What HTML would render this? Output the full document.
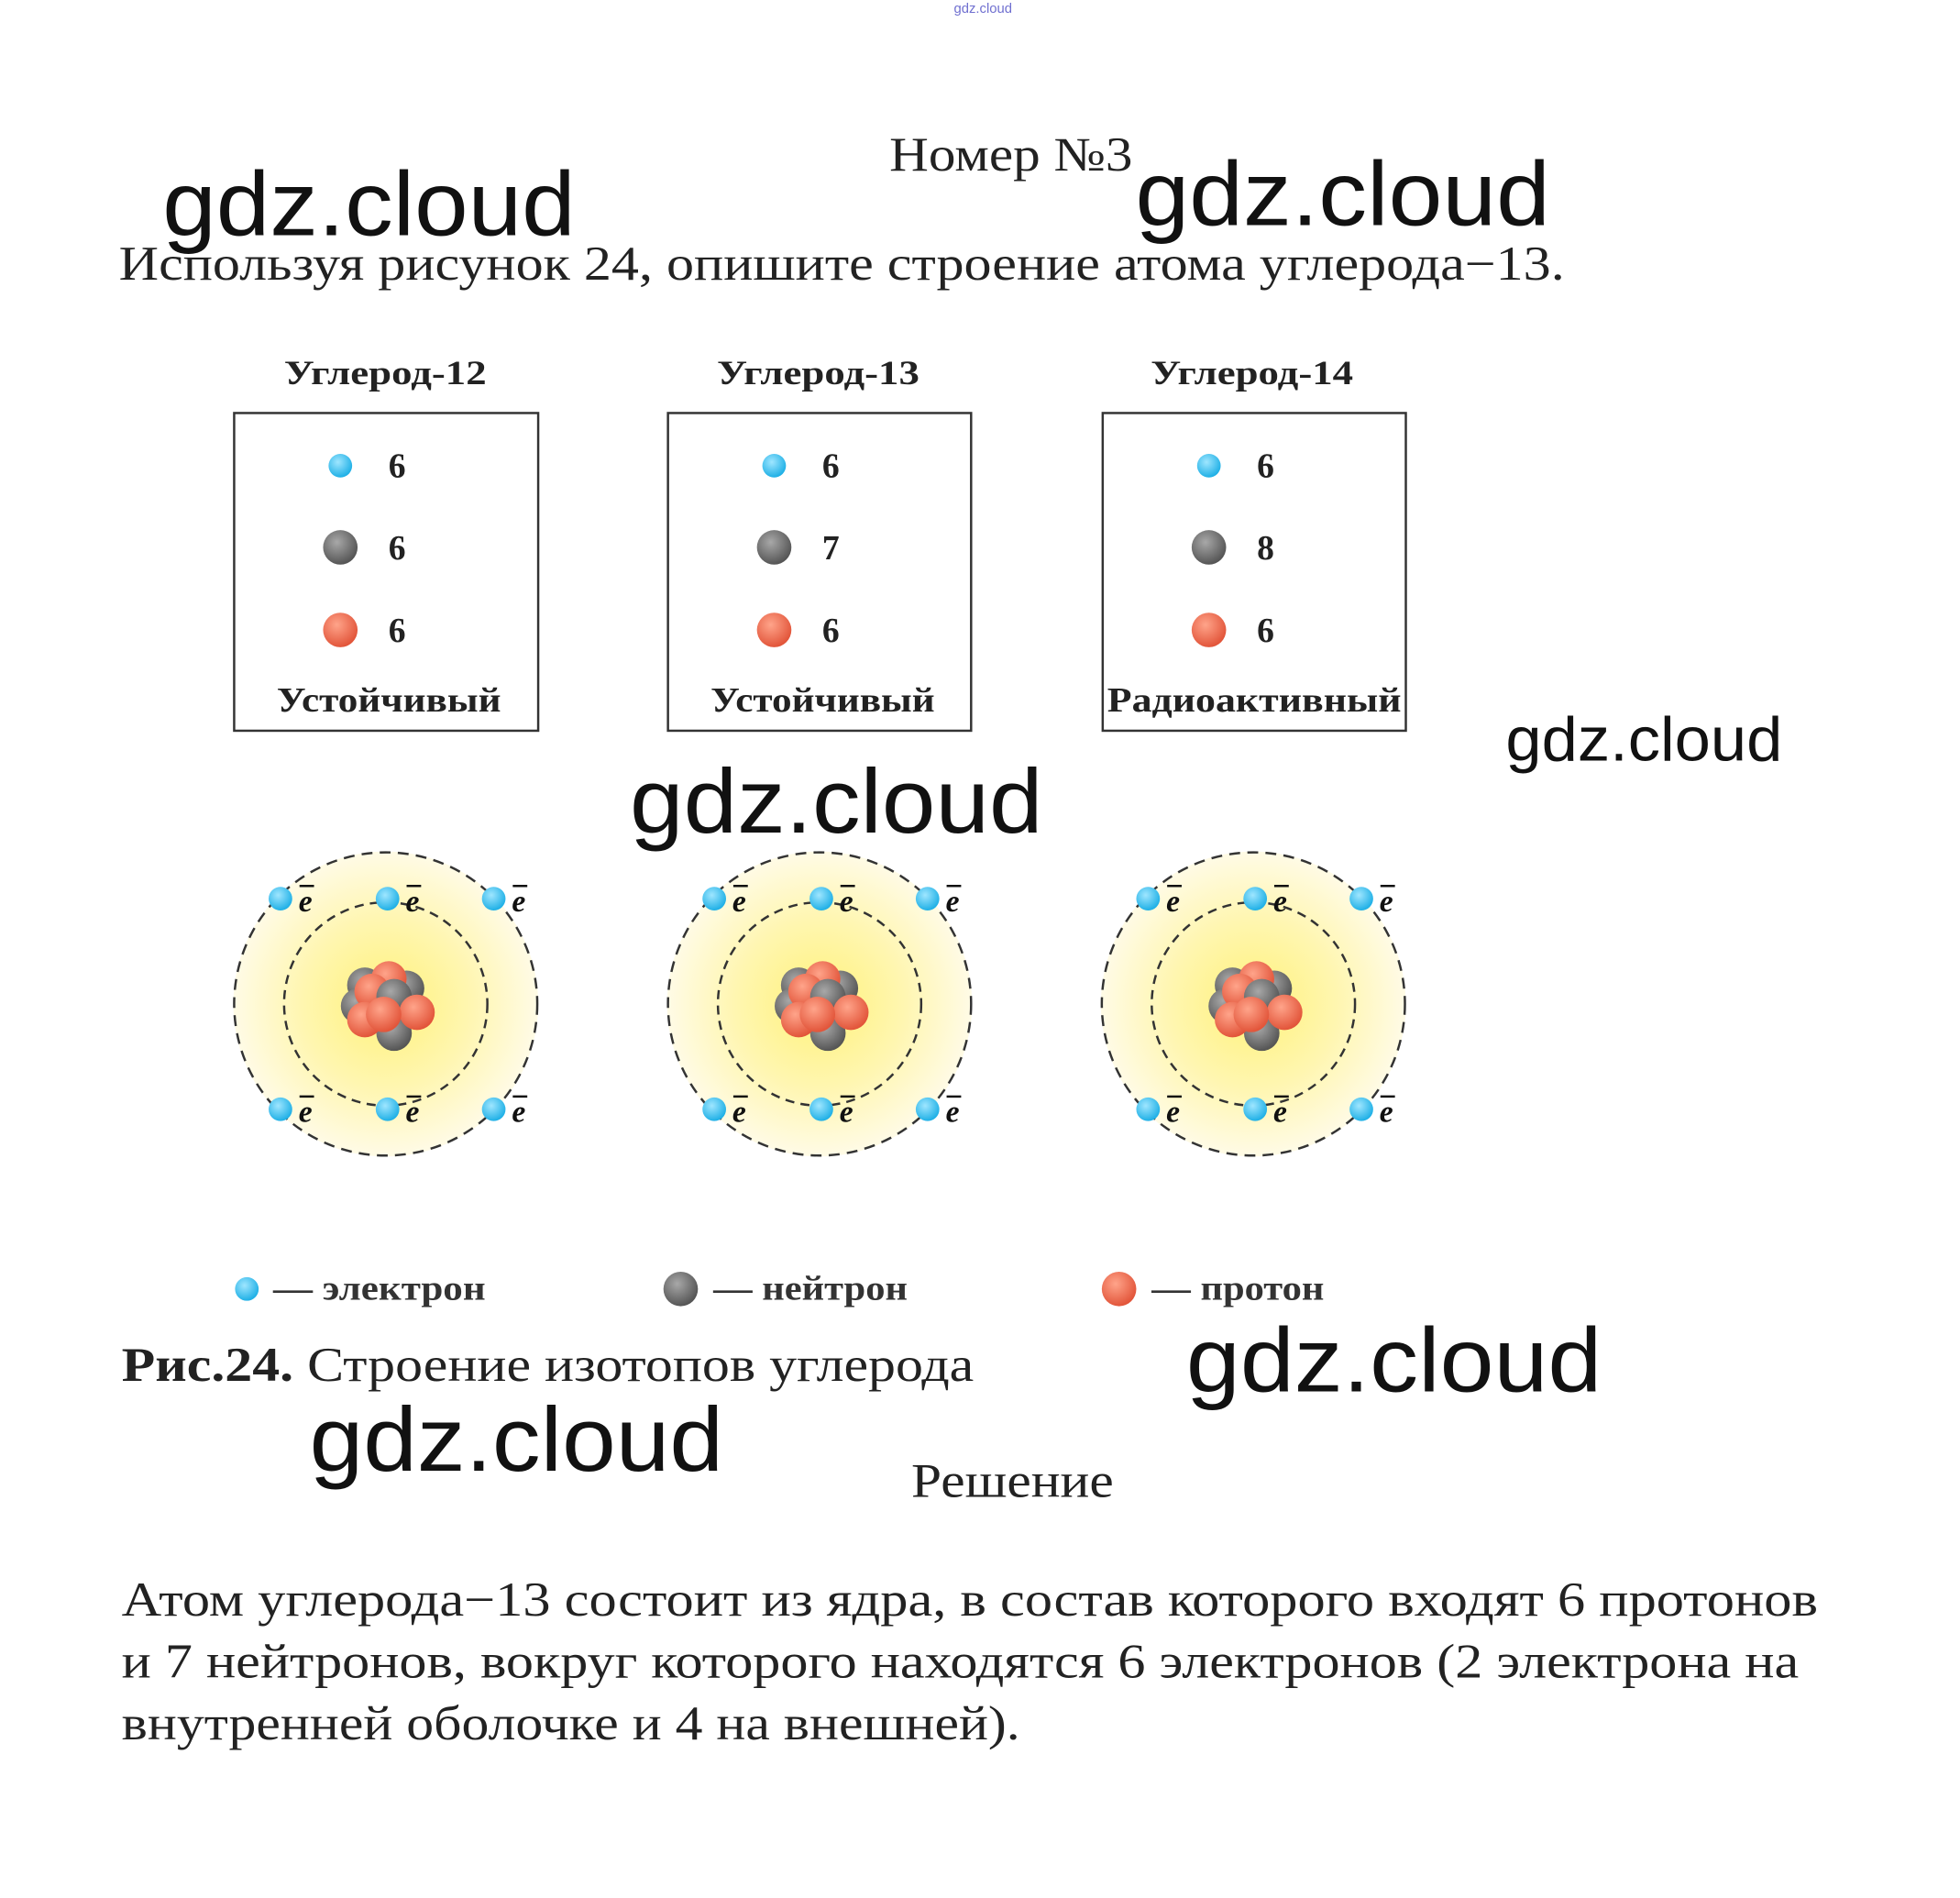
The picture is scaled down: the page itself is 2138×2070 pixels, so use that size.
<!DOCTYPE html>
<html><head><meta charset="utf-8"><style>
body{margin:0;width:2138px;height:2070px;background:#fff;position:relative;overflow:hidden}
</style></head><body>
<svg style="position:absolute;left:0;top:0" width="2138" height="2070" font-family="Liberation Serif,serif">
<defs>
<radialGradient id="ge" cx="40%" cy="35%" r="65%"><stop offset="0" stop-color="#9fe6ff"/><stop offset="1" stop-color="#1fb0e6"/></radialGradient>
<radialGradient id="gn" cx="40%" cy="35%" r="65%"><stop offset="0" stop-color="#a8a8a8"/><stop offset="1" stop-color="#555"/></radialGradient>
<radialGradient id="gp" cx="40%" cy="35%" r="65%"><stop offset="0" stop-color="#ffa48a"/><stop offset="1" stop-color="#e2553a"/></radialGradient>
<radialGradient id="gy"><stop offset="0" stop-color="#fff27a"/><stop offset="0.55" stop-color="#fff6b0"/><stop offset="1" stop-color="#fffbe6"/></radialGradient>
<g id="nuc" transform="scale(1.15)">
<circle cx="-20" cy="-18" r="17" fill="url(#gn)"/><circle cx="20" cy="-15" r="17" fill="url(#gn)"/>
<circle cx="-26" cy="2" r="17" fill="url(#gn)"/><circle cx="3" cy="-24" r="17" fill="url(#gp)"/>
<circle cx="-13" cy="-12" r="17" fill="url(#gp)"/><circle cx="8" cy="-7" r="17" fill="url(#gn)"/>
<circle cx="8" cy="28" r="17" fill="url(#gn)"/><circle cx="-20" cy="15" r="17" fill="url(#gp)"/>
<circle cx="30" cy="8" r="17" fill="url(#gp)"/><circle cx="-2" cy="10" r="17" fill="url(#gp)"/>
</g>
<g id="el"><circle r="13" fill="url(#ge)"/><text x="20" y="14" font-size="34" font-style="italic" font-weight="bold" fill="#111">e</text><line x1="21" y1="-14" x2="37" y2="-14" stroke="#111" stroke-width="2.5"/></g>
<g id="atom">
<circle r="168" fill="url(#gy)"/>
<circle r="167" fill="none" stroke="#333" stroke-width="2.5" stroke-dasharray="12 8"/>
<circle r="112" fill="none" stroke="#333" stroke-width="2.5" stroke-dasharray="10 7"/>
<use href="#nuc"/>
<use href="#el" x="-116" y="-116"/><use href="#el" x="2" y="-116"/><use href="#el" x="119" y="-116"/>
<use href="#el" x="-116" y="116"/><use href="#el" x="2" y="116"/><use href="#el" x="119" y="116"/>
</g>
</defs>
<g transform="scale(0.99)">
<text x="1051" y="14" font-family="Liberation Sans,sans-serif" font-size="15" fill="#7070d0">gdz.cloud</text>
<g fill="#222" font-size="53">
<text x="980" y="188" textLength="268" lengthAdjust="spacingAndGlyphs">Номер №3</text>
<text x="131" y="308" textLength="1593" lengthAdjust="spacingAndGlyphs">Используя рисунок 24, опишите строение атома углерода−13.</text>
<text x="134" y="1521" textLength="939" lengthAdjust="spacingAndGlyphs"><tspan font-weight="bold">Рис.24.</tspan> Строение изотопов углерода</text>
<text x="1004" y="1649" textLength="223" lengthAdjust="spacingAndGlyphs">Решение</text>
<text x="134" y="1780" textLength="1869" lengthAdjust="spacingAndGlyphs">Атом углерода−13 состоит из ядра, в состав которого входят 6 протонов</text>
<text x="134" y="1848" textLength="1848" lengthAdjust="spacingAndGlyphs">и 7 нейтронов, вокруг которого находятся 6 электронов (2 электрона на</text>
<text x="134" y="1916" textLength="990" lengthAdjust="spacingAndGlyphs">внутренней оболочке и 4 на внешней).</text>
</g>

<g font-size="37" font-weight="bold" fill="#222">
<text x="313" y="423" textLength="223" lengthAdjust="spacingAndGlyphs">Углерод-12</text>
<text x="790" y="423" textLength="223" lengthAdjust="spacingAndGlyphs">Углерод-13</text>
<text x="1268" y="423" textLength="223" lengthAdjust="spacingAndGlyphs">Углерод-14</text>
</g>
<g fill="none" stroke="#333" stroke-width="2.5">
<rect x="258" y="455" width="335" height="350"/><rect x="736" y="455" width="334" height="350"/><rect x="1215" y="455" width="334" height="350"/>
</g>
<g font-size="38" font-weight="bold" fill="#222">
<circle cx="375" cy="513" r="13" fill="url(#ge)"/><circle cx="375" cy="603" r="19" fill="url(#gn)"/><circle cx="375" cy="694" r="19" fill="url(#gp)"/>
<text x="428" y="526">6</text><text x="428" y="616">6</text><text x="428" y="707">6</text>
<circle cx="853" cy="513" r="13" fill="url(#ge)"/><circle cx="853" cy="603" r="19" fill="url(#gn)"/><circle cx="853" cy="694" r="19" fill="url(#gp)"/>
<text x="906" y="526">6</text><text x="906" y="616">7</text><text x="906" y="707">6</text>
<circle cx="1332" cy="513" r="13" fill="url(#ge)"/><circle cx="1332" cy="603" r="19" fill="url(#gn)"/><circle cx="1332" cy="694" r="19" fill="url(#gp)"/>
<text x="1385" y="526">6</text><text x="1385" y="616">8</text><text x="1385" y="707">6</text>
<text x="305" y="784" textLength="247" lengthAdjust="spacingAndGlyphs">Устойчивый</text>
<text x="783" y="784" textLength="247" lengthAdjust="spacingAndGlyphs">Устойчивый</text>
<text x="1220" y="784" textLength="324" lengthAdjust="spacingAndGlyphs">Радиоактивный</text>
</g>
<use href="#atom" x="425" y="1106"/><use href="#atom" x="903" y="1106"/><use href="#atom" x="1381" y="1106"/>
<g font-size="38" font-weight="bold" fill="#333">
<circle cx="272" cy="1420" r="13" fill="url(#ge)"/><text x="301" y="1432" textLength="234" lengthAdjust="spacingAndGlyphs">— электрон</text>
<circle cx="750" cy="1420" r="19" fill="url(#gn)"/><text x="786" y="1432" textLength="214" lengthAdjust="spacingAndGlyphs">— нейтрон</text>
<circle cx="1233" cy="1420" r="19" fill="url(#gp)"/><text x="1269" y="1432" textLength="190" lengthAdjust="spacingAndGlyphs">— протон</text>
</g>

<g font-family="Liberation Sans,sans-serif" fill="#111" font-size="100">
<text x="179" y="259" textLength="455" lengthAdjust="spacingAndGlyphs">gdz.cloud</text>
<text x="1251" y="248" textLength="457" lengthAdjust="spacingAndGlyphs">gdz.cloud</text>
<text x="1659" y="838" font-size="68" textLength="305" lengthAdjust="spacingAndGlyphs">gdz.cloud</text>
<text x="694" y="917" textLength="455" lengthAdjust="spacingAndGlyphs">gdz.cloud</text>
<text x="1307" y="1533" textLength="458" lengthAdjust="spacingAndGlyphs">gdz.cloud</text>
<text x="341" y="1620" textLength="456" lengthAdjust="spacingAndGlyphs">gdz.cloud</text>
</g>
</g>
</svg>
</body></html>
